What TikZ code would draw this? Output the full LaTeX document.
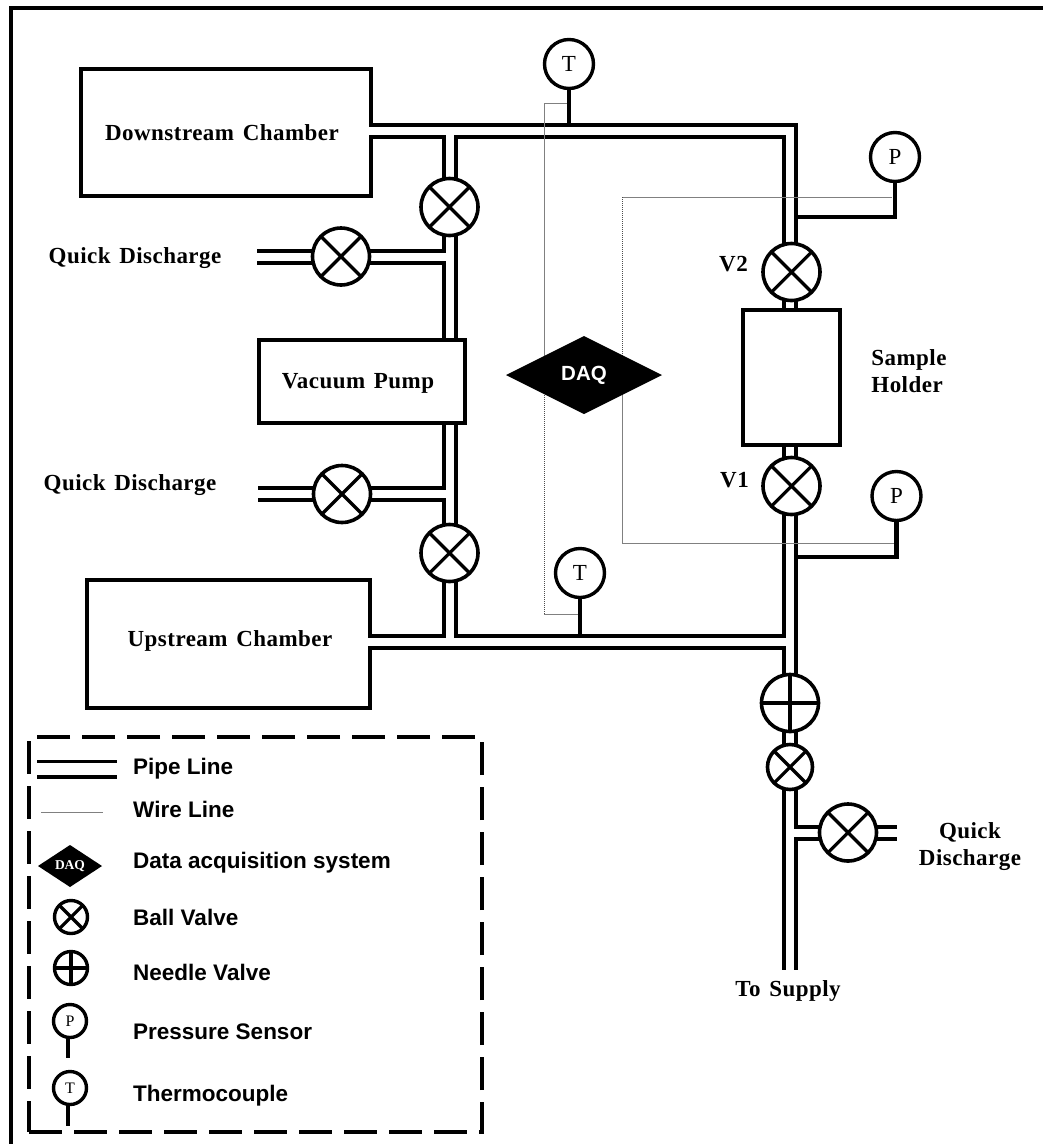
\documentclass[tikz,border=0pt]{standalone}
\usepackage{fontspec}
\setmainfont{Liberation Serif}
\setsansfont{Liberation Sans}
\newfontfamily\lblfont[LetterSpace=2,WordSpace=1.4]{Liberation Serif}
\usetikzlibrary{shapes.geometric,backgrounds}
\begin{document}
\begin{tikzpicture}[
    x=1pt, y=-1pt,
    lbl/.style={font=\fontsize{23}{27}\lblfont\bfseries, align=center, inner sep=0pt},
    lgtext/.style={font=\fontsize{22.5}{26}\selectfont\sffamily\bfseries, anchor=west, inner sep=0pt},
    box/.style={draw, fill=white, line width=3.8pt, inner sep=0pt},
    pipe/.style={draw, line width=4pt, double, double distance=8pt},
    lgpipe/.style={draw, line width=3.5pt, double, double distance=12pt},
    stem/.style={draw, line width=4.5pt},
    wire/.style={draw=gray, line width=0.9pt},
    wiredot/.style={draw=black!70, line width=0.8pt, dash pattern=on 1pt off 1pt},
    ballvalve/.style={circle, draw, fill=white, line width=3.6pt, inner sep=0pt, minimum size=57pt,
        path picture={\draw[line width=3.2pt]
            (path picture bounding box.north west) -- (path picture bounding box.south east)
            (path picture bounding box.north east) -- (path picture bounding box.south west);}},
    needlevalve/.style={circle, draw, fill=white, line width=3.6pt, inner sep=0pt, minimum size=57pt,
        path picture={\draw[line width=3.2pt]
            (path picture bounding box.north) -- (path picture bounding box.south)
            (path picture bounding box.east) -- (path picture bounding box.west);}},
    sensor/.style={circle, draw, fill=white, line width=3.4pt, inner sep=0pt, minimum size=49pt,
        font=\fontsize{23}{23}\selectfont},
    daq/.style={diamond, fill=black, text=white, inner sep=0pt, outer sep=0pt}
]
\useasboundingbox (0,0) rectangle (1043,1144);

% Frame (top and left edges only)
\coordinate (frameA) at (11,1144);
\coordinate (frameB) at (11,8);
\coordinate (frameC) at (1043,8);
\draw[line width=4.8pt] (frameA) -- (frameB) -- (frameC);

% Valves
\node[ballvalve] (bvUp) at (449.5,207) {};
\node[ballvalve] (bvQa) at (341,256.5) {};
\node[ballvalve] (bvLo) at (449.5,553) {};
\node[ballvalve] (bvQb) at (342,494) {};
\node[ballvalve] (bvTwo) at (791.5,272) {};
\node[ballvalve] (bvOne) at (791.5,486) {};
\node[needlevalve] (nvMain) at (790,703) {};
\node[ballvalve, minimum size=45pt] (bvSup) at (790,767) {};
\node[ballvalve] (bvQc) at (848,832.5) {};

% Pump and sample holder
\node[box, minimum width=206pt, minimum height=83pt] (pump) at (362,381.5) {};
\node[lbl] (pumpText) at (358,383) {Vacuum Pump};
\node[box, minimum width=97pt, minimum height=135pt] (holder) at (791.5,377.5) {};

% Sensors
\node[sensor] (tcTop) at (569,64) {T};
\node[sensor] (tcLow) at (580,573) {T};
\node[sensor] (psTop) at (895,157) {P};
\node[sensor] (psLow) at (896.5,496) {P};

% Pipe points
\coordinate (mDown) at (369,131);
\coordinate (mUp) at (368,641.5);
\coordinate (jTL) at (449.5,131);
\coordinate (jTR) at (790,131);
\coordinate (jBL) at (449.5,641.5);
\coordinate (jBR) at (790,641.5);
\coordinate (jQa) at (449.5,256.5);
\coordinate (jQb) at (449.5,494);
\coordinate (jQc) at (790,832.5);
\coordinate (endQa) at (257,256.5);
\coordinate (endQb) at (258,494);
\coordinate (endQc) at (897,832.5);
\coordinate (endSup) at (790,970);
\coordinate (jTcTop) at (569,125);
\coordinate (jTcLow) at (580,636);
\coordinate (jPsTop) at (895,217);
\coordinate (jPsTopEnd) at (797,217);
\coordinate (jPsLow) at (896.5,557);
\coordinate (jPsLowEnd) at (797,557);

\begin{scope}[on background layer]
% Chambers
\node[box, minimum width=290pt, minimum height=127pt] (chDown) at (226,132.5) {};
\node[box, minimum width=283pt, minimum height=128pt] (chUp) at (228.5,644) {};
% Pipes
\draw[pipe]
    (mDown) -- (jTR) -- (jTR |- bvTwo)
    (jTR |- bvTwo) -- (jTR |- holder)
    (jTR |- holder) -- (jTR |- bvOne)
    (jTR |- bvOne) -- (jBR) -- (nvMain.center)
    (nvMain.center) -- (bvSup.center)
    (bvSup.center) -- (jQc) -- (endSup)
    (jTL) -- (bvUp.center) -- (jQa) -- (jTL |- pump)
    (jTL |- pump) -- (jQb) -- (bvLo.center) -- (jBL)
    (endQa) -- (bvQa.center) -- (jQa)
    (endQb) -- (bvQb.center) -- (jQb)
    (jQc) -- (bvQc.center) -- (endQc)
    (mUp) -- (jBR);
% Sensor stems
\draw[stem] (tcTop.center) -- (jTcTop);
\draw[stem] (tcLow.center) -- (jTcLow);
\draw[stem] (psTop.center) -- (jPsTop) -- (jPsTopEnd);
\draw[stem] (psLow.center) -- (jPsLow) -- (jPsLowEnd);
\end{scope}

% Wires
\coordinate (wTcTop) at (544,103);
\coordinate (wTcLow) at (544,614);
\coordinate (wPsTop) at (622,197);
\coordinate (wPsLow) at (622,543);
\coordinate (wMid) at (584,375);
\coordinate (wTcTopEnd) at (567,103);
\coordinate (wTcLowEnd) at (578,614);
\coordinate (wPsTopEnd) at (892,197);
\coordinate (wPsLowEnd) at (894,543);
\draw[wire] (wTcTopEnd) -- (wTcTop) -- (wTcTop |- wMid);
\draw[wiredot] (wTcTop |- wMid) -- (wTcLow);
\draw[wire] (wTcLow) -- (wTcLowEnd);
\draw[wire] (wPsTopEnd) -- (wPsTop);
\draw[wiredot] (wPsTop) -- (wPsTop |- wMid);
\draw[wire] (wPsTop |- wMid) -- (wPsLow) -- (wPsLowEnd);

% DAQ
\node[daq, minimum width=156pt, minimum height=78pt, font=\fontsize{20.5}{20.5}\selectfont\sffamily\bfseries] (daqMain) at (584,375) {DAQ};

% Labels
\node[lbl] (chDownText) at (222,133) {Downstream Chamber};
\node[lbl] (chUpText) at (230,641) {Upstream Chamber};
\node[lbl] (qdOne) at (135,258) {Quick Discharge};
\node[lbl] (qdTwo) at (130,485) {Quick Discharge};
\node[lbl] (qdThree) at (970,847) {Quick\\Discharge};
\node[lbl, align=left] (lbSample) at (909,371.5) {Sample\\Holder};
\node[lbl] (lbVtwo) at (733.5,264) {V2};
\node[lbl] (lbVone) at (734.5,480) {V1};
\node[lbl] (lbSupply) at (788,991) {To Supply};

% Legend
\node[draw, line width=4pt, dash pattern=on 33pt off 12pt, minimum width=453pt, minimum height=395pt, inner sep=0pt] (legend) at (255.5,934.5) {};
\coordinate (lgPipeA) at (37,769);
\coordinate (lgPipeB) at (117,769);
\draw[lgpipe] (lgPipeA) -- (lgPipeB);
\coordinate (lgWireA) at (41,812);
\coordinate (lgWireB) at (103,812);
\draw[wire] (lgWireA) -- (lgWireB);
\node[daq, minimum width=64pt, minimum height=42pt, font=\fontsize{13.5}{13.5}\selectfont\bfseries] (lgDaq) at (70,866) {DAQ};
\node[ballvalve, minimum size=33pt, line width=3.4pt] (lgBall) at (71,917) {};
\node[needlevalve, minimum size=33pt, line width=3.4pt] (lgNeedle) at (71,968) {};
\coordinate (lgPsEnd) at (68,1058);
\coordinate (lgTcEnd) at (68,1126);
\draw[stem] (68,1021) -- (lgPsEnd);
\draw[stem] (68,1088) -- (lgTcEnd);
\node[sensor, minimum size=33pt, line width=3.4pt, font=\fontsize{16}{16}\selectfont] (lgPs) at (70,1021) {P};
\node[sensor, minimum size=33pt, line width=3.4pt, font=\fontsize{16}{16}\selectfont] (lgTc) at (70,1088) {T};
\node[lgtext] (txPipe) at (133,769) {Pipe Line};
\node[lgtext] (txWire) at (133,809) {Wire Line};
\node[lgtext] (txDaq) at (133,863) {Data acquisition system};
\node[lgtext] (txBall) at (133,917) {Ball Valve};
\node[lgtext] (txNeedle) at (133,972) {Needle Valve};
\node[lgtext] (txPs) at (133,1032) {Pressure Sensor};
\node[lgtext] (txTc) at (133,1096) {Thermocouple};
\end{tikzpicture}
\end{document}
